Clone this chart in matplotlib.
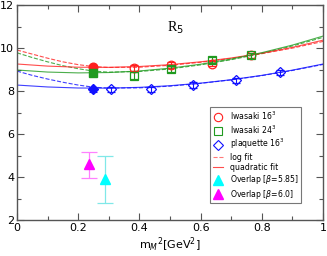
import numpy as np
import matplotlib.pyplot as plt

# data points (m_M^2 in GeV^2, R_5)
iw16_x = [0.382, 0.503, 0.636, 0.765]
iw16_y = [9.08, 9.21, 9.28, 9.67]
iw16_err = [0.14, 0.13, 0.13, 0.12]
iw16_fill_x = [0.249]
iw16_fill_y = [9.10]
iw16_fill_err = [0.12]

iw24_x = [0.382, 0.503, 0.636, 0.765]
iw24_y = [8.71, 9.02, 9.44, 9.67]
iw24_err = [0.16, 0.13, 0.13, 0.12]
iw24_fill_x = [0.249]
iw24_fill_y = [8.82]
iw24_fill_err = [0.12]

pl16_x = [0.306, 0.437, 0.574, 0.715, 0.859]
pl16_y = [8.09, 8.09, 8.28, 8.51, 8.87]
pl16_err = [0.12, 0.12, 0.12, 0.12, 0.12]
pl16_fill_x = [0.249]
pl16_fill_y = [8.09]
pl16_fill_err = [0.12]

ov585_x = [0.289]
ov585_y = [3.91]
ov585_lo = [1.11]
ov585_hi = [1.09]
ov60_x = [0.234]
ov60_y = [4.59]
ov60_lo = [0.64]
ov60_hi = [0.56]

# fit curves
quad_x = [0.0, 0.1, 0.2, 0.3, 0.4, 0.5, 0.6, 0.7, 0.8, 0.9, 1.0]
quad_iw16 = [9.26, 9.162, 9.11, 9.104, 9.144, 9.23, 9.362, 9.54, 9.764, 10.034, 10.37]
quad_iw24 = [8.98, 8.885, 8.846, 8.863, 8.936, 9.065, 9.25, 9.491, 9.788, 10.141, 10.56]
quad_pl16 = [8.28, 8.191, 8.143, 8.137, 8.173, 8.25, 8.369, 8.529, 8.731, 8.975, 9.26]

log_x = [0.0, 0.05, 0.1, 0.15, 0.2, 0.25, 0.3, 0.4, 0.5, 0.6, 0.7, 0.8, 0.9, 1.0]
log_iw16 = [9.91, 9.72, 9.53, 9.36, 9.23, 9.14, 9.10, 9.11, 9.20, 9.34, 9.52, 9.74, 10.0, 10.31]
log_iw24 = [9.78, 9.56, 9.36, 9.18, 9.04, 8.93, 8.88, 8.91, 9.03, 9.22, 9.46, 9.75, 10.1, 10.5]
log_pl16 = [8.93, 8.73, 8.56, 8.41, 8.28, 8.18, 8.14, 8.15, 8.23, 8.36, 8.52, 8.72, 8.96, 9.24]

red = '#ff2020'
green = '#1f9a1f'
blue = '#1010ff'

fig = plt.figure(figsize=(3.27, 2.56), dpi=100)
ax = fig.add_axes([0.052, 0.1406, 0.936, 0.8394])

lw = 0.8
ax.plot(log_x, log_iw16, '--', color=red, lw=lw, alpha=0.8)
ax.plot(log_x, log_iw24, '--', color=green, lw=lw, alpha=0.8)
ax.plot(log_x, log_pl16, '--', color=blue, lw=lw, alpha=0.8)
ax.plot(quad_x, quad_iw16, '-', color=red, lw=lw, alpha=0.8)
ax.plot(quad_x, quad_iw24, '-', color=green, lw=lw, alpha=0.8)
ax.plot(quad_x, quad_pl16, '-', color=blue, lw=lw, alpha=0.8)

ekw = dict(linestyle='none', elinewidth=0.8, capsize=3, capthick=0.8)
ax.errorbar(iw16_x, iw16_y, yerr=iw16_err, marker='o', ms=6.2, mfc='none',
            mec=red, ecolor=red, mew=0.9, **ekw)
ax.errorbar(iw24_x, iw24_y, yerr=iw24_err, marker='s', ms=5.8, mfc='none',
            mec=green, ecolor=green, mew=0.9, **ekw)
ax.errorbar(pl16_x, pl16_y, yerr=pl16_err, marker='D', ms=5.3, mfc='none',
            mec=blue, ecolor=blue, mew=0.9, **ekw)
ax.errorbar(iw16_fill_x, iw16_fill_y, yerr=iw16_fill_err, marker='o', ms=6.2,
            color=red, ecolor=red, **ekw)
ax.errorbar(iw24_fill_x, iw24_fill_y, yerr=iw24_fill_err, marker='s', ms=5.8,
            color=green, ecolor=green, **ekw)
ax.errorbar(pl16_fill_x, pl16_fill_y, yerr=pl16_fill_err, marker='D', ms=5.3,
            color=blue, ecolor=blue, **ekw)

ax.errorbar(ov585_x, ov585_y, yerr=[ov585_lo, ov585_hi], marker='^', ms=7,
            color='#00ffff', ecolor='#80e8e8', linestyle='none',
            elinewidth=0.9, capsize=6, capthick=0.9)
ax.errorbar(ov60_x, ov60_y, yerr=[ov60_lo, ov60_hi], marker='^', ms=7,
            color='#ff00ff', ecolor='#ff80ff', linestyle='none',
            elinewidth=0.9, capsize=6, capthick=0.9)

# legend handles
h = [
    ax.plot([], [], 'o', mfc='none', mec=red, ms=6, mew=0.8)[0],
    ax.plot([], [], 's', mfc='none', mec=green, ms=5.5, mew=0.8)[0],
    ax.plot([], [], 'D', mfc='none', mec=blue, ms=5, mew=0.8)[0],
    ax.plot([], [], '--', color=red, lw=lw, alpha=0.6)[0],
    ax.plot([], [], '-', color=red, lw=lw, alpha=0.8)[0],
    ax.plot([], [], '^', color='#00ffff', ms=7)[0],
    ax.plot([], [], '^', color='#ff00ff', ms=7)[0],
]
labels = [r'Iwasaki 16$^3$', r'Iwasaki 24$^3$', r'plaquette 16$^3$', 'log fit',
          'quadratic fit', r'Overlap [$\beta$=5.85]', r'Overlap [$\beta$=6.0]']
leg = ax.legend(h, labels, loc='upper left', bbox_to_anchor=(0.63, 0.527),
                fontsize=5.6, frameon=True, fancybox=False, handlelength=1.3,
                handletextpad=0.9, labelspacing=0.17, borderpad=0.35,
                borderaxespad=0)
leg.get_frame().set_edgecolor('#555555')
leg.get_frame().set_linewidth(0.8)

ax.text(0.49, 10.75, r'R$_5$', fontsize=10, family='Liberation Serif')

ax.set_xlim(0, 1)
ax.set_ylim(2, 12)
ax.set_xticks(np.arange(0, 1.01, 0.2))
ax.set_xticklabels(['0', '0.2', '0.4', '0.6', '0.8', '1'])
ax.set_xticks(np.arange(0.1, 1.0, 0.2), minor=True)
ax.set_yticks(np.arange(2, 13, 2))
ax.set_yticks(np.arange(3, 12, 2), minor=True)
ax.tick_params(which='both', direction='in', top=True, right=True,
               labelsize=8, width=0.8, color='#555555', pad=2)
ax.tick_params(which='major', length=5)
ax.tick_params(which='minor', length=3)
for s in ax.spines.values():
    s.set_color('#555555')
    s.set_linewidth(1.0)
ax.set_xlabel(r'm$_M$$^2$[GeV$^2$]', fontsize=8, labelpad=2)

fig.savefig('out.png', dpi=100)
